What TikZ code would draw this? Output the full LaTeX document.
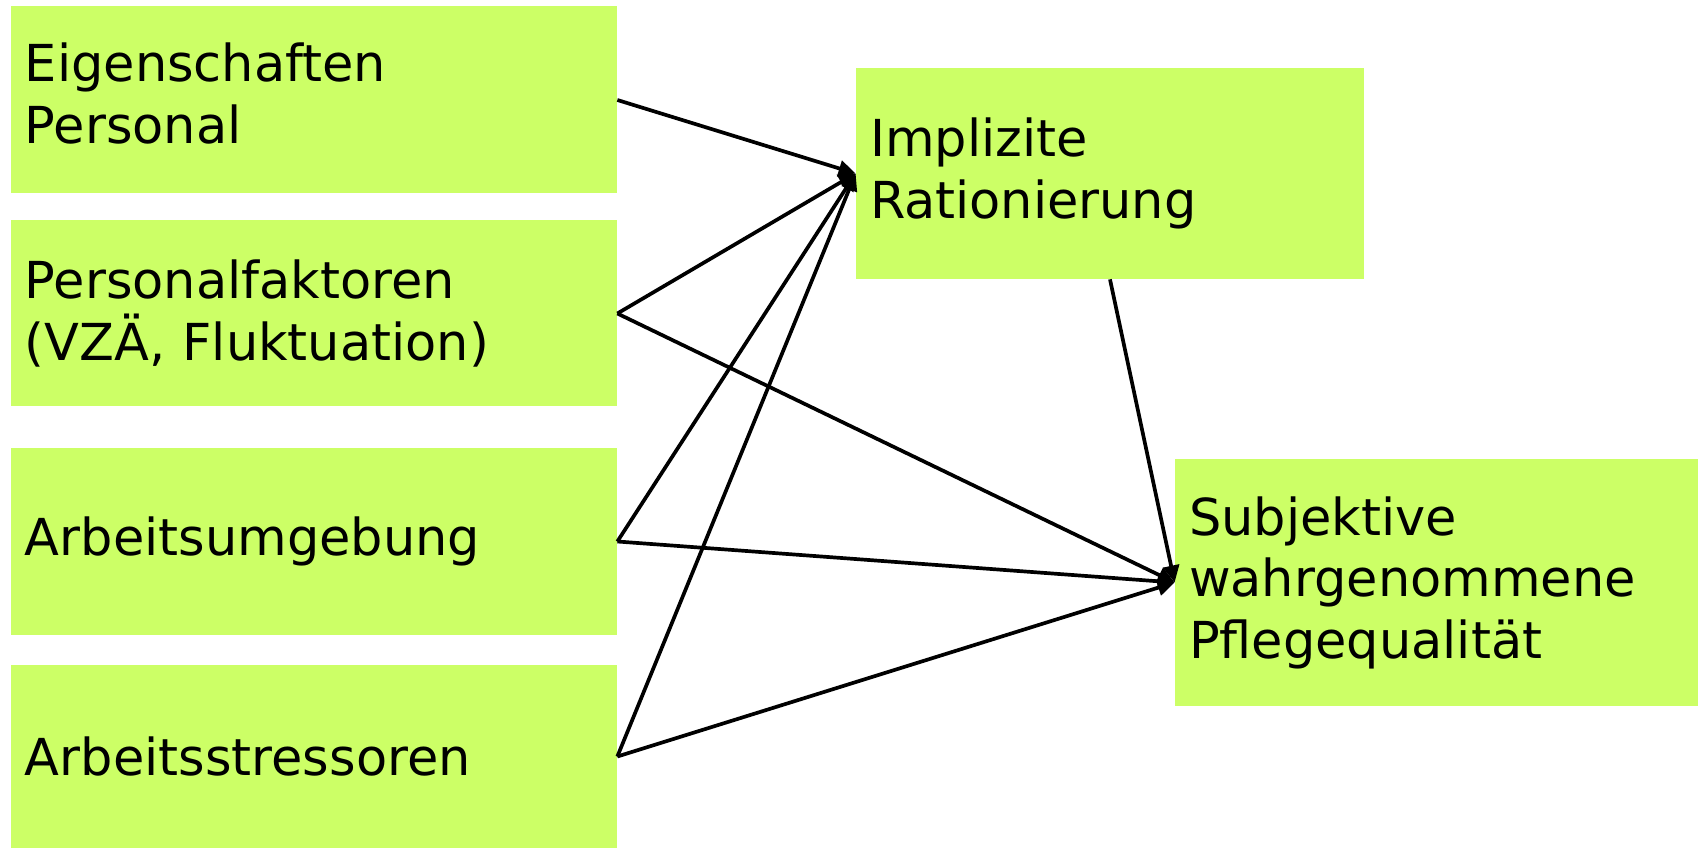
\documentclass[tikz,border=0pt]{standalone}
\usepackage{fontspec}
\setmainfont{DejaVu Sans}
\usetikzlibrary{arrows.meta}
\definecolor{hellgruen}{RGB}{204,255,102}

\begin{document}
\begin{tikzpicture}[
        greenbox/.style={fill=hellgruen, inner xsep=0.28cm, inner ysep=0pt, align=left, font=\fontsize{29}{35}\selectfont},
        pfeil/.style={-{Triangle[length=0.34cm,width=0.32cm]}, line width=2.1pt}
    ]
                \useasboundingbox (0,0) rectangle (33.96,16.96);
                \node[greenbox, text width=11.56cm, minimum height=3.74cm] (eig) at (6.28,14.96) {Eigenschaften\\Personal\vspace{0.25cm}};
                \node[greenbox, text width=11.56cm, minimum height=3.72cm] (pers) at (6.28,10.69) {Personalfaktoren\\(VZÄ, Fluktuation)};
                \node[greenbox, text width=11.56cm, minimum height=3.75cm] (umg) at (6.28,6.13) {Arbeitsumgebung};
                \node[greenbox, text width=11.56cm, minimum height=3.66cm] (stress) at (6.28,1.83) {Arbeitsstressoren};
                \node[greenbox, text width=9.6cm, minimum height=4.22cm] (ratio) at (22.2,13.49) {Implizite\\Rationierung};
                \node[greenbox, text width=9.9cm, minimum height=4.94cm] (quali) at (28.73,5.31) {Subjektive\\wahrgenommene\\Pflegequalität};

                \draw[pfeil] (eig.east) -- (ratio.west);
                \draw[pfeil] (pers.east) -- (ratio.west);
                \draw[pfeil] (pers.east) -- (quali.west);
                \draw[pfeil] (umg.east) -- (ratio.west);
                \draw[pfeil] (umg.east) -- (quali.west);
                \draw[pfeil] (stress.east) -- (ratio.west);
                \draw[pfeil] (stress.east) -- (quali.west);
                \draw[pfeil] (ratio.south) -- (quali.west);
            \end{tikzpicture}
\end{document}
